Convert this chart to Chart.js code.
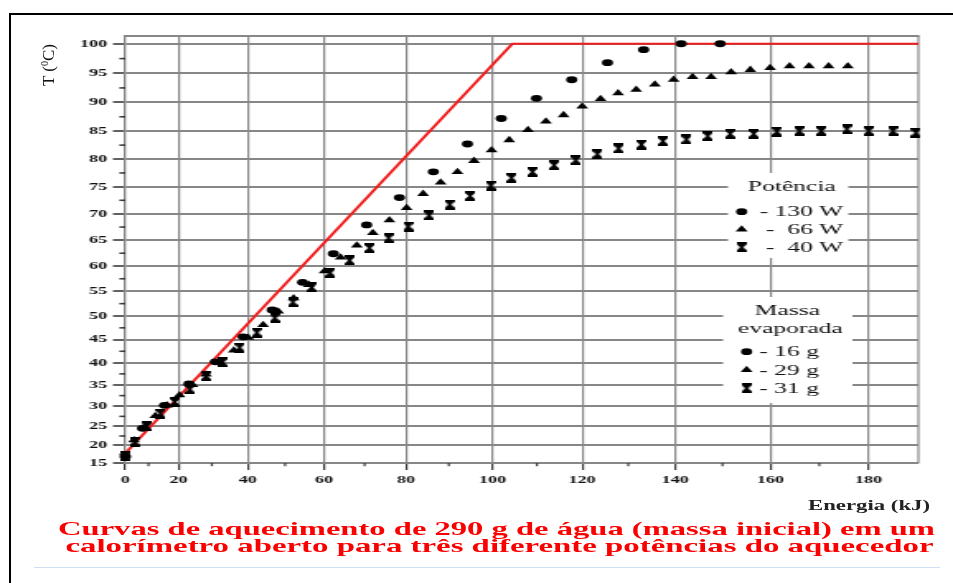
<!DOCTYPE html>
<html>
<head>
<meta charset="utf-8">
<script src="https://cdn.jsdelivr.net/npm/chart.js@4.4.1/dist/chart.umd.min.js"></script>
<style>
  html, body { margin: 0; padding: 0; background: #fff; overflow: hidden; }
  #page { position: relative; width: 953px; height: 583px; overflow: hidden; background: #fff; }
  #frame { position: absolute; left: 9px; top: 13px; width: 1000px; height: 620px;
           border-top: 2px solid #000; border-left: 2px solid #000; }
  #stage { position: absolute; left: 0; top: 0; width: 578px; height: 583px; transform-origin: 0 0; }
  #ytitle { position: absolute; left: 14px; top: 55px; width: 70px; height: 20px; line-height: 20px;
            text-align: center; font: 17px "Liberation Serif", serif; color: #111;
            transform: rotate(-90deg); white-space: nowrap; }
  #ytitle sup { font-size: 10px; vertical-align: 6px; line-height: 0; }
  #xtitle { position: absolute; left: 808px; top: 497px; font: bold 14.5px "Liberation Serif", serif;
            color: #222; white-space: nowrap; transform-origin: 0 50%; }
  .cap { position: absolute; width: 953px; text-align: center; color: #fa0000;
         font: bold 19px/17px "Liberation Serif", serif; white-space: nowrap; transform-origin: 50% 0; }
  #cap1 { left: 20px; top: 520px; }
  #cap2 { left: 22.5px; top: 537px; }
  #rule { position: absolute; left: 34px; top: 567px; width: 906px; height: 1px; background: #cfe0f4; }
</style>
</head>
<body>
<div id="page">
  <div id="frame"></div>
  <div id="stage"><canvas id="chart" width="578" height="583"></canvas></div>
  <div id="ytitle">T (<sup>0</sup>C)</div>
  <div id="xtitle">Energia (kJ)</div>
  <div class="cap" id="cap1">Curvas de aquecimento de 290 g de água (massa inicial) em um</div>
  <div class="cap" id="cap2">calorímetro aberto para três diferente potências do aquecedor</div>
  <div id="rule"></div>
</div>
<script>
// ---- measured heating curves: energy supplied (kJ) vs water temperature (°C) ----
const energy130 = [0, 7.8, 15.5, 23.2, 31.0, 38.8, 46.6, 54.5, 62.3, 70.5, 78.4, 86.4, 94.3, 102.0,
                   109.9, 117.7, 125.5, 133.3, 141.3, 149.5];
const temp130   = [17.0, 24.5, 30.2, 35.2, 40.2, 45.6, 51.2, 56.8, 62.4, 67.9, 73.0, 77.7, 82.7, 87.2,
                   90.7, 93.9, 96.8, 99.0, 100.0, 100.0];

const energy66 = [0, 4.4, 8.4, 12.4, 16.3, 20.3, 24.3, 28.3, 32.3, 36.2, 40.2, 44.2, 48.2, 52.2, 56.1,
                  60.1, 64.1, 68.1, 72.0, 76.0, 80.1, 84.0, 88.1, 92.0, 95.8, 99.8, 103.8, 108.0, 112.0,
                  115.9, 120.0, 124.0, 127.8, 131.7, 135.7, 139.7, 143.7, 147.6, 151.8, 155.8, 159.9,
                  163.9, 167.9, 171.9, 175.8];
const temp66   = [17.0, 21.4, 24.8, 27.6, 30.2, 32.6, 35.0, 37.4, 40.0, 42.7, 45.4, 48.1, 50.9, 53.6, 56.3,
                  59.0, 61.7, 64.0, 66.4, 68.8, 71.1, 73.7, 75.8, 77.7, 79.7, 81.6, 83.4, 85.2, 86.7,
                  87.8, 89.3, 90.6, 91.6, 92.2, 93.1, 93.9, 94.4, 94.4, 95.2, 95.6, 95.9,
                  96.2, 96.2, 96.2, 96.2];

const energy40 = [0, 4.7, 9.4, 14.1, 18.8, 23.5, 28.3, 33.0, 37.8, 42.5, 47.3, 52.0, 56.8, 61.5, 66.3,
                  71.2, 75.8, 80.5, 85.4, 90.2, 94.9, 99.6, 104.3, 109.0, 113.8, 118.6, 123.3, 127.9,
                  132.8, 137.4, 142.4, 146.9, 151.6, 156.5, 161.3, 165.9, 170.4, 175.6, 180.0, 184.9, 189.5];
const temp40   = [17.0, 21.0, 25.0, 28.2, 31.0, 34.0, 37.0, 40.1, 43.3, 46.5, 49.6, 52.8, 55.8, 58.7, 61.1,
                  63.5, 65.4, 67.6, 69.7, 71.7, 73.3, 75.2, 76.6, 77.7, 78.9, 79.8, 80.9, 81.9,
                  82.6, 83.2, 83.5, 84.1, 84.5, 84.5, 84.9, 85.0, 85.0, 85.3, 85.0, 85.0, 84.7];

// ideal (loss-free) heating line, then boiling plateau
const idealEnergy = [0, 104.5, 190];
const idealTemp   = [17.8, 100, 100];

// axes
const energyTicks = [0, 20, 40, 60, 80, 100, 120, 140, 160, 180];
const energyMinor = [10, 30, 50, 70, 90, 110, 130, 150, 170];
const tempTicks   = [15, 20, 25, 30, 35, 40, 45, 50, 55, 60, 65, 70, 75, 80, 85, 90, 95, 100];
const tempMinor   = [17.5, 22.5, 27.5, 32.5, 37.5, 42.5, 47.5, 52.5, 57.5, 62.5, 67.5, 72.5, 77.5,
                     82.5, 87.5, 92.5, 97.5];

// legend texts
const powerTitle  = 'Potência';
const powerLabels = ['- 130 W', '-  66 W', '-  40 W'];
const massTitle   = ['Massa', 'evaporada'];
const massLabels  = ['- 16 g', '- 29 g', '- 31 g'];

// ---------------------------------------------------------------------------
const STRETCH = 953 / 578;
document.getElementById('stage').style.transform = 'scaleX(' + STRETCH + ')';

const GRID = '#878787';
const TICK = '#3a3a3a';

// Axis whose spacing follows value^exponent (a power scale).
class PowerScale extends Chart.LinearScale {
  static id = 'power';
  static defaults = Chart.LinearScale.defaults;
  _pw(v) { return Math.pow(Math.max(v, 0), this.options.exponent || 1); }
  getPixelForValue(value) {
    if (value === null || value === undefined || Number.isNaN(+value)) return NaN;
    const lo = this._pw(this.min), hi = this._pw(this.max);
    return this.getPixelForDecimal((this._pw(+value) - lo) / (hi - lo));
  }
  getValueForPixel(pixel) {
    const lo = this._pw(this.min), hi = this._pw(this.max);
    const e = this.options.exponent || 1;
    return Math.pow(lo + this.getDecimalForPixel(pixel) * (hi - lo), 1 / e);
  }
}
Chart.register(PowerScale);

// hourglass marker used for the 40 W series
function makeHourglass() {
  const c = document.createElement('canvas');
  c.width = 6; c.height = 10;
  const g = c.getContext('2d');
  const w = 6, h = 10;
  g.fillStyle = '#000';
  g.beginPath();
  g.moveTo(0, 0); g.lineTo(w, 0); g.lineTo(w, 2); g.lineTo(w / 2 + 0.9, h / 2);
  g.lineTo(w, h - 2); g.lineTo(w, h); g.lineTo(0, h); g.lineTo(0, h - 2);
  g.lineTo(w / 2 - 0.9, h / 2); g.lineTo(0, 2);
  g.closePath(); g.fill();
  return c;
}
const hourglass = makeHourglass();

const markers = [
  { style: 'circle', radius: 3.4 },
  { style: 'triangle', radius: 4.2 },
  { style: hourglass, radius: 5 }
];

function drawMarker(ctx, m, x, y) {
  ctx.fillStyle = '#000';
  if (m.style === 'circle') {
    ctx.beginPath(); ctx.arc(x, y, m.radius, 0, Math.PI * 2); ctx.fill();
  } else if (m.style === 'triangle') {
    const r = m.radius;
    ctx.beginPath();
    ctx.moveTo(x, y - r);
    ctx.lineTo(x + r * 0.866, y + r / 2);
    ctx.lineTo(x - r * 0.866, y + r / 2);
    ctx.closePath(); ctx.fill();
  } else {
    ctx.drawImage(m.style, x - m.style.width / 2, y - m.style.height / 2);
  }
}

const pairs = (xs, ys) => xs.map((x, i) => ({ x, y: ys[i] }));

// frame lines, minor ticks and the two legend blocks
const decorations = {
  id: 'decorations',
  beforeDatasetsDraw(chart) {
    const { ctx, chartArea: a, scales: { x, y } } = chart;
    ctx.save();
    ctx.strokeStyle = GRID;
    ctx.lineWidth = 2;
    ctx.beginPath(); ctx.moveTo(a.left, a.top); ctx.lineTo(a.right + 0.6, a.top); ctx.stroke();
    ctx.lineWidth = 1.2;
    ctx.beginPath(); ctx.moveTo(a.right, a.top); ctx.lineTo(a.right, a.bottom); ctx.stroke();

    ctx.strokeStyle = TICK;
    ctx.lineWidth = 1.6;
    tempMinor.forEach(v => {
      const py = y.getPixelForValue(v);
      ctx.beginPath(); ctx.moveTo(a.left - 3.6, py); ctx.lineTo(a.left, py); ctx.stroke();
    });
    ctx.lineWidth = 1.2;
    energyMinor.forEach(v => {
      const px = x.getPixelForValue(v);
      ctx.beginPath(); ctx.moveTo(px, a.bottom); ctx.lineTo(px, a.bottom + 3.2); ctx.stroke();
    });
    ctx.restore();
  },
  afterDatasetsDraw(chart) {
    const ctx = chart.ctx;
    ctx.save();
    const font = '15.5px "Liberation Serif", serif';

    // power block
    ctx.fillStyle = '#fff';
    ctx.fillRect(441.5, 173, 73, 85);
    ctx.fillStyle = '#111';
    ctx.font = font;
    ctx.textBaseline = 'middle';
    ctx.textAlign = 'center';
    ctx.fillText(powerTitle, 480.2, 187);
    powerLabels.forEach((t, i) => {
      const yy = 211.7 + i * 17.8;
      drawMarker(ctx, markers[i], 449.8, yy);
      ctx.fillStyle = '#111';
      ctx.textAlign = 'right';
      ctx.fillText(t, 511.5, yy + 0.5);
    });

    // evaporated mass block
    ctx.fillStyle = '#fff';
    ctx.fillRect(438.5, 297, 78.5, 106);
    ctx.fillStyle = '#111';
    ctx.textAlign = 'center';
    ctx.fillText(massTitle[0], 477.6, 311);
    ctx.fillText(massTitle[1], 479.4, 328.6);
    massLabels.forEach((t, i) => {
      const yy = 351.7 + i * 18.3;
      drawMarker(ctx, markers[i], 452.8, yy);
      ctx.fillStyle = '#111';
      ctx.textAlign = 'left';
      ctx.fillText(t, 460.5, yy + 0.5);
    });
    ctx.restore();
  }
};

const tickFont = { family: '"Liberation Serif", serif', size: 11, weight: 'bold' };

new Chart(document.getElementById('chart'), {
  type: 'scatter',
  data: {
    datasets: [
      { label: '130 W', data: pairs(energy130, temp130), pointStyle: markers[0].style,
        pointRadius: markers[0].radius, pointBackgroundColor: '#000', pointBorderColor: '#000',
        pointBorderWidth: 0, clip: false, order: 0 },
      { label: '66 W', data: pairs(energy66, temp66), pointStyle: markers[1].style,
        pointRadius: markers[1].radius, pointBackgroundColor: '#000', pointBorderColor: '#000',
        pointBorderWidth: 0, clip: false, order: 0 },
      { label: '40 W', data: pairs(energy40, temp40), pointStyle: markers[2].style,
        pointRadius: markers[2].radius, pointBackgroundColor: '#000', pointBorderColor: '#000',
        pointBorderWidth: 0, clip: false, order: 0 },
      { label: 'ideal', data: pairs(idealEnergy, idealTemp), showLine: true, borderColor: '#f01c1c',
        borderWidth: 2, pointRadius: 0, fill: false, tension: 0, order: 1 }
    ]
  },
  options: {
    responsive: false,
    animation: false,
    events: [],
    layout: { padding: { left: 0, right: 21, top: 36, bottom: 80 } },
    plugins: { legend: { display: false }, tooltip: { enabled: false } },
    scales: {
      x: {
        type: 'power', exponent: 1.2, min: 0, max: 190, bounds: 'data',
        afterBuildTicks: s => { s.ticks = energyTicks.map(v => ({ value: v })); },
        afterFit: s => { s.height = 40; },
        grid: { color: GRID, lineWidth: 1.2, tickLength: 7, tickColor: TICK, tickWidth: 1.2 },
        border: { color: GRID, width: 2 },
        ticks: { font: tickFont, color: '#111', padding: 4, maxRotation: 0, autoSkip: false,
                 callback: v => String(v) }
      },
      y: {
        type: 'power', exponent: 1.3, min: 15, max: 101.3, bounds: 'data',
        afterBuildTicks: s => { s.ticks = tempTicks.map(v => ({ value: v })); },
        afterFit: s => { s.width = 76; },
        grid: { color: GRID, lineWidth: 2, tickLength: 7.5, tickColor: TICK, tickWidth: 1.6 },
        border: { color: GRID, width: 1.2 },
        ticks: { font: tickFont, color: '#111', padding: 3.5, autoSkip: false,
                 callback: v => String(v) }
      }
    }
  },
  plugins: [decorations]
});

// widen the caption lines and axis title to their set spans
(function fitText() {
  const m = document.createElement('canvas').getContext('2d');
  const fit = (id, font, width) => {
    const el = document.getElementById(id);
    m.font = font;
    el.style.transform = 'scaleX(' + (width / m.measureText(el.textContent).width) + ')';
  };
  fit('cap1', 'bold 19px "Liberation Serif"', 877);
  fit('cap2', 'bold 19px "Liberation Serif"', 868);
  fit('xtitle', 'bold 14.5px "Liberation Serif"', 122);
})();
</script>
</body>
</html>
